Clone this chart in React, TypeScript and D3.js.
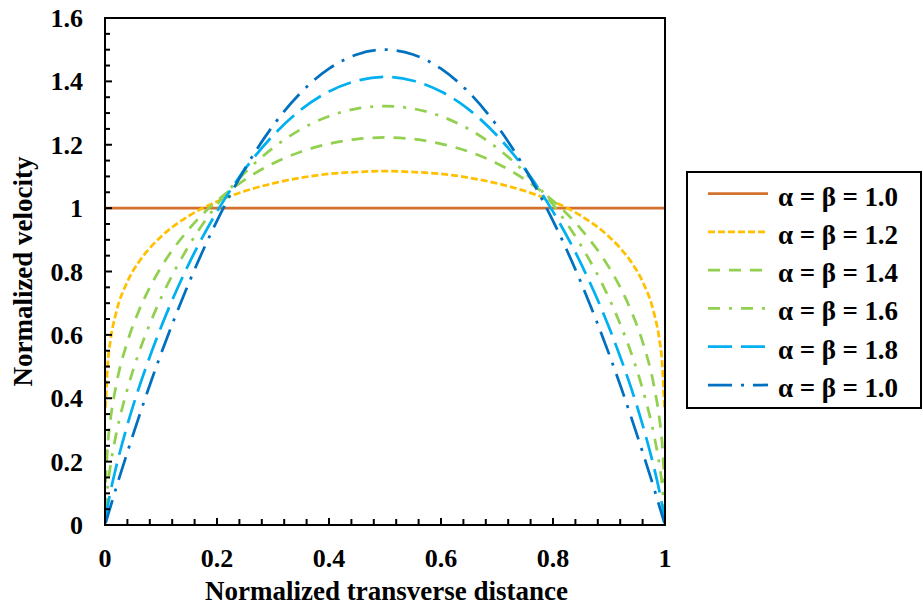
import React from "react";
import * as d3 from "d3";

const xValues = [0.001, 0.005, 0.01, 0.02, 0.04, 0.06, 0.08, 0.1, 0.15, 0.2, 0.25, 0.3, 0.35, 0.4, 0.45, 0.5, 0.55, 0.6, 0.65, 0.7, 0.75, 0.8, 0.85, 0.9, 0.92, 0.94, 0.96, 0.98, 0.99, 0.995, 0.999];

const s10 = [1, 1, 1, 1, 1, 1, 1, 1, 1, 1, 1, 1, 1, 1, 1, 1, 1, 1, 1, 1, 1, 1, 1, 1, 1, 1, 1, 1, 1, 1, 1];
const s12 = [0.370, 0.510, 0.585, 0.671, 0.768, 0.829, 0.874, 0.910, 0.976, 1.021, 1.054, 1.078, 1.096, 1.108, 1.114, 1.117, 1.114, 1.108, 1.096, 1.078, 1.054, 1.021, 0.976, 0.910, 0.874, 0.829, 0.768, 0.671, 0.585, 0.510, 0.370];
const s14 = [0.134, 0.255, 0.336, 0.442, 0.578, 0.674, 0.750, 0.813, 0.934, 1.023, 1.090, 1.141, 1.178, 1.203, 1.218, 1.223, 1.218, 1.203, 1.178, 1.141, 1.090, 1.023, 0.934, 0.813, 0.750, 0.674, 0.578, 0.442, 0.336, 0.255, 0.134];
const s16 = [0.048, 0.126, 0.190, 0.287, 0.429, 0.541, 0.634, 0.716, 0.882, 1.011, 1.112, 1.190, 1.249, 1.290, 1.314, 1.322, 1.314, 1.290, 1.249, 1.190, 1.112, 1.011, 0.882, 0.716, 0.634, 0.541, 0.429, 0.287, 0.190, 0.126, 0.048];
const s18 = [0.017, 0.062, 0.107, 0.184, 0.316, 0.430, 0.531, 0.624, 0.825, 0.989, 1.123, 1.229, 1.311, 1.368, 1.402, 1.414, 1.402, 1.368, 1.311, 1.229, 1.123, 0.989, 0.825, 0.624, 0.531, 0.430, 0.316, 0.184, 0.107, 0.062, 0.017];
const s20 = [0.006, 0.030, 0.059, 0.118, 0.230, 0.338, 0.442, 0.540, 0.765, 0.960, 1.125, 1.260, 1.365, 1.440, 1.485, 1.500, 1.485, 1.440, 1.365, 1.260, 1.125, 0.960, 0.765, 0.540, 0.442, 0.338, 0.230, 0.118, 0.059, 0.030, 0.006];

const seriesLabels = ["α = β = 1.0", "α = β = 1.2", "α = β = 1.4", "α = β = 1.6", "α = β = 1.8", "α = β = 1.0"];
const seriesValues = [s10, s12, s14, s16, s18, s20];
const seriesColors = ["#D4702D", "#FFC000", "#92D050", "#92D050", "#00B0F0", "#0070C0"];
const seriesDashes = ["none", "7,3", "12,9", "12,9,3,9", "24,9", "24,9,3,9"];

const xTickLabels = ["0", "0.2", "0.4", "0.6", "0.8", "1"];
const yTickLabels = ["0", "0.2", "0.4", "0.6", "0.8", "1", "1.2", "1.4", "1.6"];

const W = 923, H = 612;
const L = 105, R = 665, T = 18, B = 525;
const FONT = "'Liberation Serif', 'Times New Roman', serif";

export default function App() {
  const x = d3.scaleLinear().domain([0, 1]).range([L, R]);
  const y = d3.scaleLinear().domain([0, 1.6]).range([B, T]);
  const line = d3.line<number>()
    .x((_, i) => x(xValues[i]))
    .y((d) => y(d))
    .curve(d3.curveMonotoneX);

  const xMinor = d3.range(0, 26).map((i) => i * 0.04);
  const yMinor = d3.range(0, 33).map((i) => i * 0.05);

  const legX = 687, legY = 172, legW = 234, legH = 236;
  const rowY = (i: number) => 193.5 + i * 38.3;

  return (
    <svg width={W} height={H} style={{ position: "absolute", left: 0, top: 0, background: "#fff" }}>
      <rect x={0} y={0} width={W} height={H} fill="#fff" />
      {seriesValues.map((vals, i) => (
        <path key={i} d={line(vals) || ""} fill="none" stroke={seriesColors[i]} strokeWidth={2.75}
          strokeDasharray={seriesDashes[i]} />
      ))}
      {xMinor.map((v, i) => (
        <line key={"xt" + i} x1={x(v)} x2={x(v)} y1={B} y2={B - (i % 5 === 0 ? 7 : 6)} stroke="#000" strokeWidth={2} />
      ))}
      {yMinor.map((v, i) => (
        <line key={"yt" + i} x1={L} x2={L + (i % 4 === 0 ? 7 : 5)} y1={y(v)} y2={y(v)} stroke="#000" strokeWidth={2} />
      ))}
      <rect x={L} y={T} width={R - L} height={B - T} fill="none" stroke="#000" strokeWidth={2} />
      {xTickLabels.map((t, i) => (
        <text key={"xl" + i} x={x(i * 0.2)} y={567} textAnchor="middle" fontFamily={FONT} fontWeight="bold" fontSize={26}>{t}</text>
      ))}
      {yTickLabels.map((t, i) => (
        <text key={"yl" + i} x={83} y={y(i * 0.2) + 9} textAnchor="end" fontFamily={FONT} fontWeight="bold" fontSize={26}>{t}</text>
      ))}
      <text x={386.5} y={600} textAnchor="middle" fontFamily={FONT} fontWeight="bold" fontSize={27}>Normalized transverse distance</text>
      <text transform={`translate(32,${(T + B) / 2}) rotate(-90)`} textAnchor="middle" fontFamily={FONT} fontWeight="bold" fontSize={27}>Normalized velocity</text>
      <rect x={legX} y={legY} width={legW} height={legH} fill="#fff" stroke="#000" strokeWidth={2} />
      {seriesLabels.map((lab, i) => (
        <g key={"lg" + i}>
          <line x1={708} x2={768} y1={rowY(i)} y2={rowY(i)} stroke={seriesColors[i]} strokeWidth={2.75} strokeDasharray={seriesDashes[i]} />
          <text x={778} y={rowY(i) + 12} fontFamily={FONT} fontWeight="bold" fontSize={27} textLength={120} lengthAdjust="spacing">{lab}</text>
        </g>
      ))}
    </svg>
  );
}
